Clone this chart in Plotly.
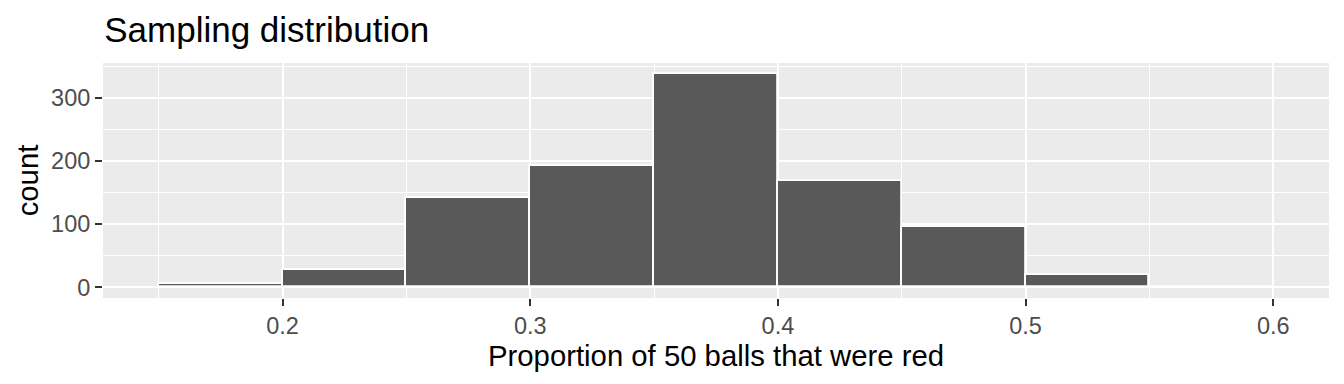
import plotly.graph_objects as go

# Histogram data (bin width 0.05)
bin_left = [0.15, 0.20, 0.25, 0.30, 0.35, 0.40, 0.45, 0.50, 0.55]
counts = [5, 28, 141, 192, 338, 168, 96, 20, 1]
bin_width = 0.05
x_ticks = [0.2, 0.3, 0.4, 0.5, 0.6]
x_tick_labels = ["0.2", "0.3", "0.4", "0.5", "0.6"]
y_ticks = [0, 100, 200, 300]

centers = [b + bin_width / 2 for b in bin_left]

fig = go.Figure()
fig.add_trace(go.Bar(
    x=centers, y=counts, width=[bin_width] * len(centers),
    marker=dict(color="#595959", line=dict(color="white", width=1.8)),
    hoverinfo="x+y",
))

font_family = "Liberation Sans, Arial, sans-serif"
fig.update_layout(
    width=1344, height=384,
    margin=dict(l=103, r=15, t=63, b=86),
    paper_bgcolor="white", plot_bgcolor="#EBEBEB",
    showlegend=False, bargap=0,
    font=dict(family=font_family, color="#4D4D4D"),
    title=dict(text="Sampling distribution", x=0.001, xanchor="left",
               xref="paper", y=1 - 30 / 384, yanchor="middle",
               font=dict(size=35, color="black", family=font_family)),
    xaxis=dict(
        range=[0.1275, 0.6225], tickvals=x_ticks, ticktext=x_tick_labels,
        showgrid=True, gridcolor="white", gridwidth=2.2,
        ticks="outside", ticklen=7, tickwidth=2.2, tickcolor="#333333",
        tickfont=dict(size=23.5, color="#4D4D4D"),
        zeroline=False, showline=False,
        minor=dict(tickvals=[0.15, 0.25, 0.35, 0.45, 0.55], showgrid=True,
                   gridcolor="white", gridwidth=1.1, ticks=""),
        title=dict(text="Proportion of 50 balls that were red",
                   font=dict(size=29.3, color="black"), standoff=3),
    ),
    yaxis=dict(
        range=[-16.9, 354.9], tickvals=y_ticks,
        showgrid=True, gridcolor="white", gridwidth=2.2,
        ticks="outside", ticklen=7, tickwidth=2.2, tickcolor="#333333",
        tickfont=dict(size=23.5, color="#4D4D4D"),
        zeroline=False, showline=False,
        minor=dict(tickvals=[50, 150, 250, 350], showgrid=True,
                   gridcolor="white", gridwidth=1.1, ticks=""),
        title=dict(text="count", font=dict(size=29.3, color="black"), standoff=3),
    ),
)

fig.write_html("out.html")
